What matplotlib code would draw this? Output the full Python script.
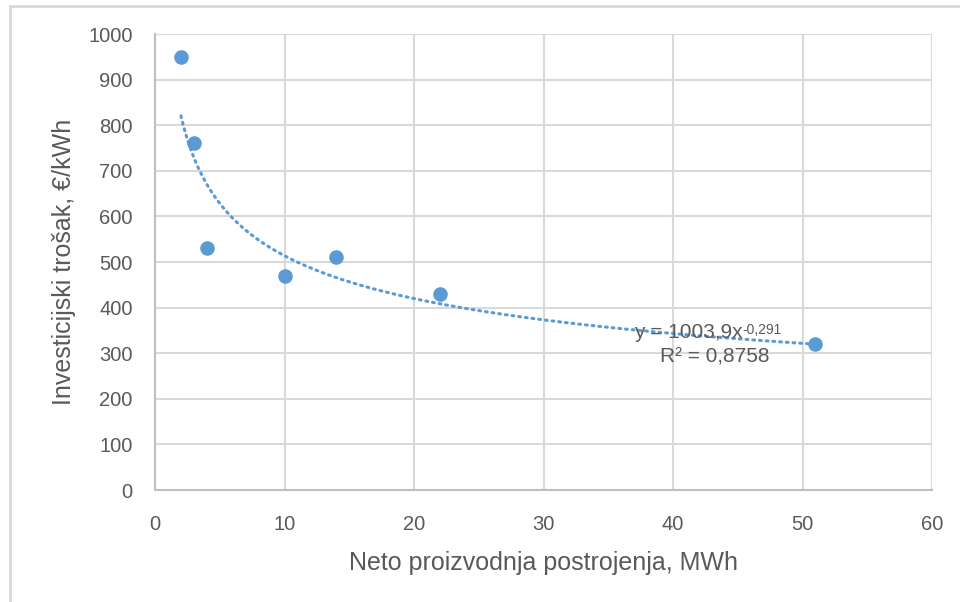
import numpy as np
import matplotlib
matplotlib.use('Agg')
import matplotlib.pyplot as plt
from matplotlib.lines import Line2D

plt.rcParams['font.family'] = ['Liberation Sans', 'DejaVu Sans']

# Data
proizvodnja = [2, 3, 4, 10, 14, 22, 51]
trosak = [950, 760, 530, 470, 510, 430, 320]

# Excel power trendline: y = a * x^b
trend_a = 1003.9
trend_b = -0.291
trend_label = 'y = 1003,9x'
trend_exp = '-0,291'
r2_label = 'R² = 0,8758'

blue = '#5b9bd5'
grid = '#d9d9d9'
text_col = '#595959'

fig = plt.figure(figsize=(9.6, 6.02), dpi=100)
ax = fig.add_axes([155 / 960, 1 - 490 / 602, 777 / 960, 456 / 602])

# trendline
xt = np.linspace(min(proizvodnja), max(proizvodnja), 300)
yt = trend_a * xt ** trend_b
ax.plot(xt, yt, color=blue, lw=2.2, linestyle=(0, (0.6, 1.6)),
        dash_capstyle='round', zorder=3)

ax.scatter(proizvodnja, trosak, s=110, color=blue, zorder=4, linewidths=0)

ax.set_xlim(0, 60)
ax.set_ylim(0, 1000)
ax.set_xticks(range(0, 61, 10))
ax.set_yticks(range(0, 1001, 100))
ax.grid(True, color=grid, lw=1.5)
ax.set_axisbelow(True)
for s in ['top', 'right']:
    ax.spines[s].set_visible(False)
for s in ['left', 'bottom']:
    ax.spines[s].set_color('#bfbfbf')
    ax.spines[s].set_linewidth(1.5)
ax.tick_params(length=0, labelsize=14.5, colors=text_col)
ax.tick_params(axis='y', pad=16)
ax.tick_params(axis='x', pad=18)

ax.set_xlabel('Neto proizvodnja postrojenja, MWh', fontsize=18, color=text_col, labelpad=12)
ax.set_ylabel('Investicijski trošak, €/kWh', fontsize=18, color=text_col, labelpad=9)

eq = ax.text(41.2, 346, trend_label, fontsize=15, color=text_col, ha='center', va='center', zorder=5)
ax.annotate(trend_exp, xy=(1, 1), xycoords=eq, xytext=(0, -5), textcoords='offset points',
            fontsize=10, color=text_col, ha='left', va='center', zorder=5)
ax.text(43.2, 292, r2_label, fontsize=15, color=text_col, ha='center', va='center', zorder=5)

# outer chart frame (top and left edges visible)
fig.add_artist(Line2D([10 / 960, 1], [1 - 6 / 602, 1 - 6 / 602], color=grid, lw=2, transform=fig.transFigure))
fig.add_artist(Line2D([10 / 960, 10 / 960], [0, 1 - 6 / 602], color=grid, lw=2, transform=fig.transFigure))

fig.savefig('out.png', dpi=100, facecolor='white')
